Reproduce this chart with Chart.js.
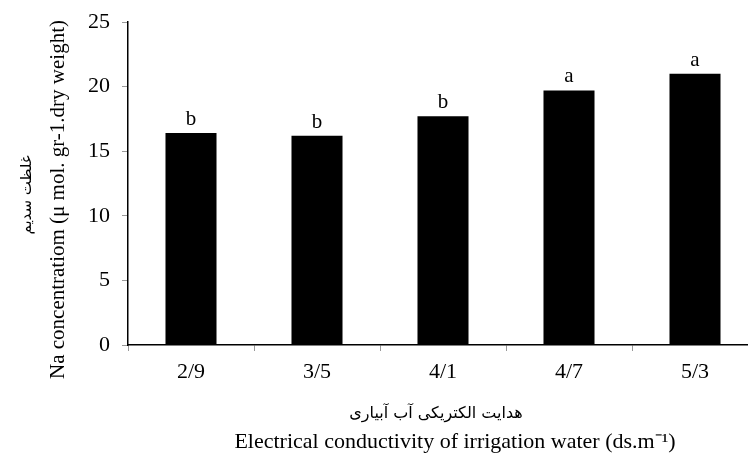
<!DOCTYPE html>
<html>
<head>
<meta charset="utf-8">
<script src="https://cdn.jsdelivr.net/npm/chart.js@4.4.1/dist/chart.umd.min.js"></script>
<style>
  html, body { margin: 0; padding: 0; background: #fff; overflow: hidden; }
  #wrap { width: 748px; height: 456px; overflow: hidden; }
</style>
</head>
<body>
<div id="wrap"><canvas id="barChart" width="770" height="456"></canvas></div>
<script>
const categories = ['2/9', '3/5', '4/1', '4/7', '5/3'];
const naValues = [16.4, 16.2, 17.7, 19.7, 21.0];
const letters = ['b', 'b', 'b', 'a', 'a'];
const yTicks = [0, 5, 10, 15, 20, 25];

const xTitleFa = 'هدایت الکتریکی آب آبیاری';
const xTitleEn = 'Electrical conductivity of irrigation water (ds.m⁻¹)';
const yTitleFa = 'غلظت سدیم';
const yTitleEn = 'Na concentratiom (μ mol. gr-1.dry weight)';

const serif = '"Liberation Serif", "Times New Roman", serif';

// letters over the bars and the two-language axis titles
const labelsPlugin = {
    id: 'labels',
    afterDraw(chart) {
        const ctx = chart.ctx;
        const meta = chart.getDatasetMeta(0);
        ctx.save();
        ctx.fillStyle = '#000';
        ctx.textAlign = 'center';
        ctx.textBaseline = 'alphabetic';
        ctx.font = '21px ' + serif;
        meta.data.forEach((bar, i) => {
            ctx.fillText(letters[i], bar.x, bar.y - 8);
        });

        ctx.textBaseline = 'middle';
        ctx.font = '16px "DejaVu Sans", sans-serif';
        ctx.fillText(xTitleFa, 436, 414);
        ctx.font = '22px ' + serif;
        ctx.fillText(xTitleEn, 455, 442);

        ctx.translate(27, 195);
        ctx.rotate(-Math.PI / 2);
        ctx.font = '15px "DejaVu Sans", sans-serif';
        ctx.fillText(yTitleFa, 0, 0);
        ctx.restore();

        ctx.save();
        ctx.fillStyle = '#000';
        ctx.textAlign = 'right';
        ctx.textBaseline = 'middle';
        ctx.translate(58, 20);
        ctx.rotate(-Math.PI / 2);
        ctx.font = '21px ' + serif;
        ctx.fillText(yTitleEn, 0, 0);
        ctx.restore();
    }
};

const ctx = document.getElementById('barChart').getContext('2d');
new Chart(ctx, {
    type: 'bar',
    data: {
        labels: categories,
        datasets: [{
            data: naValues,
            backgroundColor: '#000',
            borderWidth: 0,
            categoryPercentage: 1,
            barPercentage: 0.405
        }]
    },
    options: {
        responsive: false,
        animation: false,
        devicePixelRatio: 1,
        layout: { padding: { top: 22, right: 12, left: 0, bottom: 0 } },
        plugins: {
            legend: { display: false },
            tooltip: { enabled: false }
        },
        scales: {
            x: {
                afterFit: s => { s.height = 111; s.paddingLeft = 0; s.paddingRight = 0; },
                border: { color: '#000', width: 1.5 },
                grid: {
                    offset: true,
                    drawOnChartArea: false,
                    tickLength: 6,
                    color: '#999'
                },
                ticks: {
                    color: '#000',
                    padding: 8,
                    font: { family: serif, size: 22 }
                }
            },
            y: {
                min: 0,
                max: 25,
                afterFit: s => { s.width = 128; s.paddingTop = 0; s.paddingBottom = 0; },
                afterBuildTicks: s => { s.ticks = yTicks.map(v => ({ value: v })); },
                border: { color: '#000', width: 1.5 },
                grid: {
                    drawOnChartArea: false,
                    tickLength: 6,
                    color: '#999'
                },
                ticks: {
                    color: '#000',
                    padding: 12,
                    font: { family: serif, size: 22 }
                }
            }
        }
    },
    plugins: [labelsPlugin]
});
</script>
</body>
</html>
